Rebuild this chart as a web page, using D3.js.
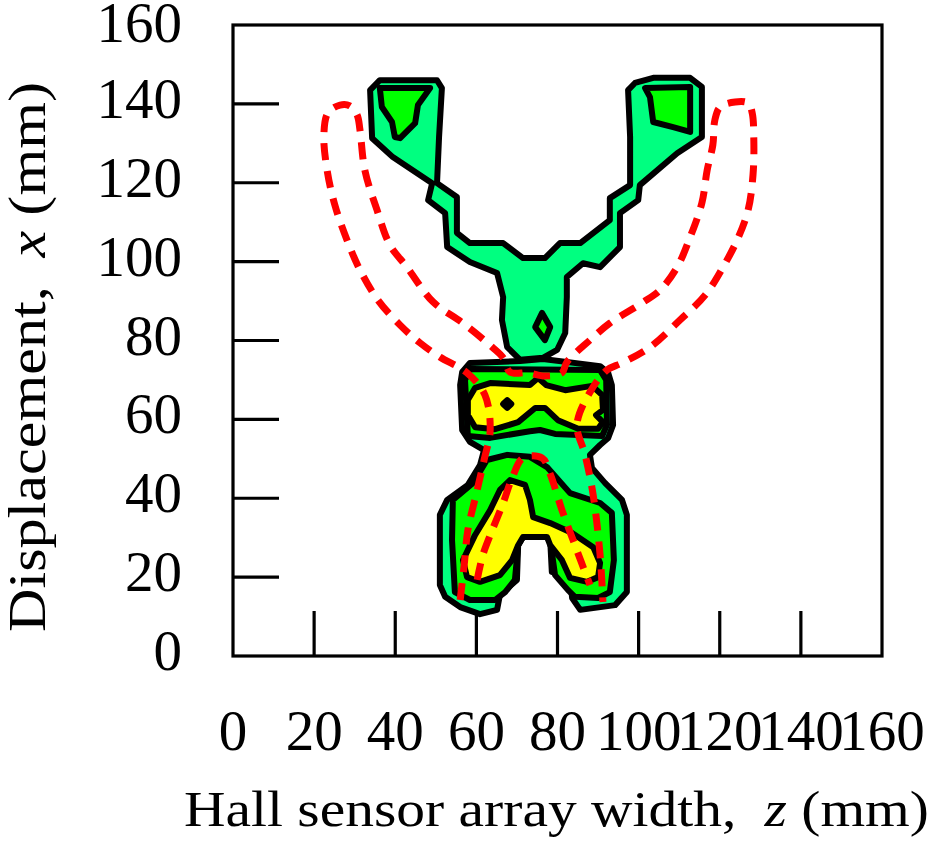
<!DOCTYPE html>
<html>
<head>
<meta charset="utf-8">
<script src="https://cdn.jsdelivr.net/npm/d3@7"></script>
<style>
  html, body { margin: 0; padding: 0; background: #fff; }
  svg { display: block; }
  text { font-family: "Liberation Serif", "Times New Roman", serif; fill: #000; }
</style>
</head>
<body>
<svg id="chart" width="934" height="849"></svg>
<script>
// ---------- data (z = sensor width mm, x = displacement mm) ----------
const zTicks = [0, 20, 40, 60, 80, 100, 120, 140, 160];
const xTicks = [0, 20, 40, 60, 80, 100, 120, 140, 160];

// outer contour level (light green) – upper "Y" branch
const levelLowUpper = [
  [33.8,143.5],[36.2,146.0],[50.3,146.0],[51.5,144.0],[50.8,131.6],[50.3,119.9],[55.2,116.4],
  [55.2,107.3],[58.4,104.7],[66.6,104.7],[71.5,100.9],[76.9,100.9],[80.6,104.7],[85.6,104.7],
  [92.9,110.5],[92.9,116.1],[97.9,119.4],[97.9,131.6],[97.4,143.5],[99.1,145.3],[103.6,146.6],
  [112.7,146.6],[115.6,144.3],[115.6,131.6],[109.5,127.5],[100.3,119.4],[99.9,115.6],[95.4,112.3],
  [95.4,103.7],[90.5,98.6],[86.3,99.6],[82.3,96.1],[82.3,91.0],[81.9,81.9],[79.9,77.6],
  [76.4,75.6],[70.8,75.1],[67.6,78.3],[66.3,85.2],[66.6,91.0],[65.1,97.1],[58.4,99.9],
  [52.8,103.7],[52.3,112.3],[48.1,115.6],[49.1,119.9],[39.4,126.5],[34.3,131.3]
];
// outer contour level (light green) – middle block and lower part
const levelLowLower = [
  [56.5,72.0],[58.4,74.3],[70.8,74.8],[76.4,75.3],[90.5,73.5],[92.5,71.8],[93.4,68.7],
  [93.7,58.6],[92.5,55.3],[90.5,53.5],[88.0,51.0],[88.5,47.7],[91.7,43.9],[95.9,39.6],
  [97.1,35.8],[97.1,16.2],[94.2,12.9],[85.6,11.7],[83.6,14.7],[83.1,19.8],[78.6,21.3],
  [78.2,29.4],[76.9,30.7],[71.5,30.2],[70.3,28.1],[70.0,19.3],[65.8,15.5],[65.1,11.7],
  [60.9,10.6],[56.0,12.4],[52.3,15.0],[51.0,18.0],[51.0,35.8],[52.8,39.6],[57.9,43.4],
  [60.9,48.4],[61.9,52.2],[58.4,54.3],[56.5,57.3],[56.0,68.7]
];
// middle contour level (green)
const levelMidLeftArm = [
  [36.2,144.0],[48.6,144.0],[45.6,139.7],[44.9,135.1],[41.2,131.3],[39.9,131.6],[39.2,135.4],[36.7,139.2]
];
const levelMidRightArm = [
  [101.6,144.0],[112.7,144.3],[112.7,132.9],[108.5,134.1],[103.6,135.4],[102.8,141.7]
];
const levelMidStem = [
  [76.2,87.0],[78.2,83.4],[76.9,80.1],[74.5,83.4]
];
const levelMidBlock = [
  [58.4,72.8],[90.5,72.5],[92.0,70.0],[92.2,58.6],[91.0,55.8],[79.4,56.3],[75.7,57.3],
  [73.2,57.0],[63.4,55.3],[57.9,55.8],[57.2,70.0]
];
const levelMidLower = [
  [62.6,49.7],[67.6,51.0],[73.2,50.5],[77.4,47.9],[83.1,41.3],[90.5,38.8],[93.4,36.3],
  [93.9,24.3],[92.9,16.2],[90.0,14.7],[84.3,15.0],[82.6,16.7],[79.4,20.5],[78.2,29.4],
  [76.9,30.7],[71.5,30.2],[70.3,28.1],[69.5,19.3],[67.1,16.2],[64.6,14.2],[58.4,14.2],
  [54.7,16.2],[54.0,29.4],[54.2,39.6],[59.2,43.9]
];
// high contour level (yellow)
const levelHighBlock = [
  [57.9,64.9],[59.7,68.0],[63.4,69.2],[73.2,68.7],[75.2,70.5],[77.2,68.7],[81.9,67.4],
  [88.5,68.5],[91.0,66.2],[91.2,62.4],[89.5,61.1],[91.2,59.3],[90.0,57.6],[85.1,57.6],
  [80.1,59.8],[76.9,62.9],[74.5,62.9],[70.3,59.3],[64.6,57.5],[59.7,58.0],[57.9,61.1]
];
const levelHighLower = [
  [68.3,44.6],[72.0,43.4],[73.2,39.6],[74.0,35.2],[78.2,33.7],[83.6,31.2],[88.8,27.6],
  [90.5,23.6],[90.0,20.0],[87.3,18.8],[83.1,19.8],[81.1,24.3],[78.2,28.1],[77.4,30.2],
  [71.5,30.2],[70.3,28.1],[68.8,24.3],[65.8,20.5],[60.9,18.8],[57.7,20.0],[56.7,24.3],
  [59.7,30.7],[63.4,37.0],[65.8,42.1]
];
// small low spot inside the yellow area
const spot = [[66.6,63.9],[67.6,64.9],[68.6,63.9],[67.6,62.9]];

// red dashed outlines
const dashedOuter = [
  [56.0,14.2],[57.0,23.1],[57.9,31.9],[59.9,40.8],[61.9,49.7],[63.4,57.3],[62.1,66.2],
  [57.7,71.8],[51.0,75.8],[46.1,79.4],[41.2,83.9],[35.7,90.3],[31.3,97.9],[28.1,105.5],
  [25.1,114.4],[23.2,123.2],[22.4,132.1],[23.4,137.7],[26.4,139.7],[28.8,139.5],[30.6,137.2],
  [31.3,133.4],[32.5,123.2],[35.5,113.1],[38.7,104.2],[42.9,98.6],[49.3,89.8],[56.7,84.4],
  [63.9,78.3],[66.6,75.6],[68.3,72.0],[72.7,71.8],[76.9,71.0],[81.1,71.8],[82.3,74.5],
  [88.0,80.1],[92.9,84.4],[100.8,89.5],[105.3,92.8],[109.5,98.6],[112.7,106.2],[115.6,114.9],
  [116.9,123.2],[118.3,129.6],[118.8,135.9],[120.1,139.2],[123.8,140.5],[127.0,140.2],
  [128.0,137.7],[128.4,130.8],[128.2,122.0],[127.0,113.1],[124.3,105.5],[120.8,98.6],
  [116.4,91.5],[110.2,85.2],[102.8,78.3],[95.9,74.3],[92.2,72.5],[88.0,66.9],[84.8,58.6],
  [86.8,51.0],[88.8,40.8],[90.5,25.6],[91.2,13.7]
];
const dashedInner = [
  [60.2,19.3],[61.6,25.6],[63.9,31.9],[66.6,38.8],[68.8,45.1],[71.5,50.2],[76.2,50.2],
  [78.2,46.1],[81.1,37.0],[84.3,28.1],[88.0,18.0]
];

// ---------- layout ----------
const svg = d3.select("#chart");
const z = d3.scaleLinear().domain([0, 160]).range([233, 882]);
const x = d3.scaleLinear().domain([0, 160]).range([656, 25]);

const polyPath = d3.line().x(d => z(d[0])).y(d => x(d[1])).curve(d3.curveLinearClosed);
const smoothPath = d3.line().x(d => z(d[0])).y(d => x(d[1])).curve(d3.curveCatmullRom.alpha(0.5));

const plot = svg.append("g");

function poly(data, fill) {
  plot.append("path")
    .attr("d", polyPath(data))
    .attr("fill", fill)
    .attr("stroke", "#000")
    .attr("stroke-width", 6)
    .attr("stroke-linejoin", "round");
}
const cLow = "#00ff80", cMid = "#00ff00", cHigh = "#ffff00";
poly(levelLowUpper, cLow);
poly(levelLowLower, cLow);
poly(levelMidLeftArm, cMid);
poly(levelMidRightArm, cMid);
poly(levelMidStem, cMid);
poly(levelMidBlock, cMid);
poly(levelMidLower, cMid);
poly(levelHighBlock, cHigh);
poly(levelHighLower, cHigh);
poly(spot, "#000");

[dashedOuter, dashedInner].forEach(d => {
  plot.append("path")
    .attr("d", smoothPath(d))
    .attr("fill", "none")
    .attr("stroke", "#ff0000")
    .attr("stroke-width", 7)
    .attr("stroke-dasharray", "17,11");
});

// ---------- frame & ticks ----------
const axes = svg.append("g").attr("stroke", "#000").attr("stroke-width", 3.2).attr("fill", "none");
axes.append("rect")
  .attr("x", z(0)).attr("y", x(160))
  .attr("width", z(160) - z(0)).attr("height", x(0) - x(160));
axes.selectAll(".tz").data(zTicks.slice(1, -1)).join("line")
  .attr("x1", d => z(d)).attr("x2", d => z(d))
  .attr("y1", x(0)).attr("y2", x(0) - 45);
axes.selectAll(".tx").data(xTicks.slice(1, -1)).join("line")
  .attr("y1", d => x(d)).attr("y2", d => x(d))
  .attr("x1", z(0)).attr("x2", z(0) + 46);

// tick labels
svg.append("g").selectAll("text").data(zTicks).join("text")
  .attr("x", d => z(d)).attr("y", 750)
  .attr("text-anchor", "middle")
  .attr("font-size", 57)
  .text(d => d);
svg.append("g").selectAll("text").data(xTicks).join("text")
  .attr("x", 182).attr("y", d => Math.max(x(d) + 14, 42))
  .attr("text-anchor", "end")
  .attr("font-size", 57)
  .text(d => d);

// axis titles
const xt = svg.append("text")
  .attr("x", 184).attr("y", 826)
  .attr("font-size", 50)
  .attr("textLength", 745)
  .attr("lengthAdjust", "spacingAndGlyphs");
xt.append("tspan").text("Hall sensor array width, ");
xt.append("tspan").attr("font-style", "italic").attr("dx", 12).text("z");
xt.append("tspan").text(" (mm)");

const yt = svg.append("text")
  .attr("transform", "translate(45,632) rotate(-90)")
  .attr("x", 0).attr("y", 0)
  .attr("font-size", 52)
  .attr("textLength", 550)
  .attr("lengthAdjust", "spacingAndGlyphs");
yt.append("tspan").text("Displacement, ");
yt.append("tspan").attr("font-style", "italic").attr("dx", 12).text("x");
yt.append("tspan").text(" (mm)");
</script>
</body>
</html>
